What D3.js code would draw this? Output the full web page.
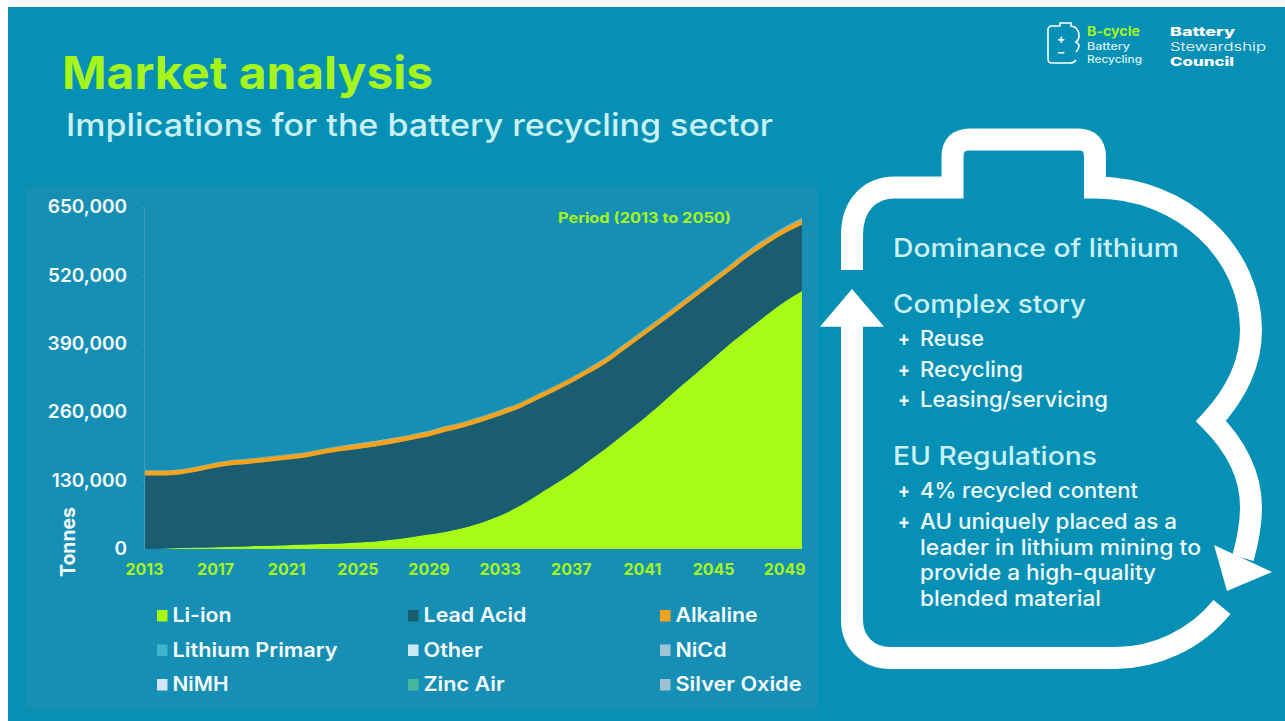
<!DOCTYPE html>
<html>
<head>
<meta charset="utf-8">
<script src="https://cdn.jsdelivr.net/npm/d3@7"></script>
<style>
  html, body { margin: 0; padding: 0; background: #fff; overflow: hidden; }
  text { font-family: Inter, "Open Sans", sans-serif; }
</style>
</head>
<body>
<div id="vis"></div>
<script>
// Data, tonnes per year
const years = d3.range(2013, 2051).map(String);
const tickYears = ["2013", "2017", "2021", "2025", "2029", "2033", "2037", "2041", "2045", "2049"];
const yTicks = [0, 130000, 260000, 390000, 520000, 650000];

const liIon = [0, 600, 1900, 2900, 3400, 4400, 5300, 6300, 7200, 8400, 9500, 10600, 12400, 14300, 18000, 22500, 27500, 33000, 40500, 50500, 63000, 80000, 100000, 121000, 142500, 167300, 192000, 218600, 245200, 273700, 304100, 332600, 362100, 391500, 418100, 444700, 469500, 490400];
const leadAcid = [139800, 139200, 139800, 144300, 150900, 155100, 156900, 159700, 162500, 165000, 170400, 175000, 177800, 180700, 182600, 184600, 186300, 190200, 191100, 191500, 190400, 185600, 181700, 176800, 172300, 166500, 161600, 159600, 157600, 153800, 148900, 146000, 142000, 138200, 138000, 133900, 130000, 125900];
const alkaline = [8800, 8800, 8800, 8900, 9000, 9000, 9000, 9000, 9100, 9100, 9200, 9200, 9300, 9300, 9300, 9400, 9400, 9400, 9500, 9500, 9500, 9600, 9600, 9600, 9700, 9700, 9700, 9800, 9800, 9800, 9900, 9900, 10000, 10000, 10100, 10200, 10200, 10300];
const lithiumPrimary = [150, 150, 150, 170, 170, 170, 200, 200, 200, 220, 220, 250, 250, 250, 270, 270, 270, 300, 300, 320, 320, 320, 350, 350, 370, 370, 400, 400, 420, 420, 450, 470, 470, 500, 520, 550, 570, 600];
const other = [120, 120, 120, 140, 140, 140, 160, 160, 160, 180, 180, 200, 200, 200, 220, 220, 220, 240, 240, 260, 260, 260, 280, 280, 300, 300, 320, 320, 340, 340, 360, 380, 380, 400, 420, 440, 460, 480];
const nicd = [60, 60, 60, 70, 70, 70, 80, 80, 80, 90, 90, 100, 100, 100, 110, 110, 110, 120, 120, 130, 130, 130, 140, 140, 150, 150, 160, 160, 170, 170, 180, 190, 190, 200, 210, 220, 230, 240];
const nimh = [150, 150, 150, 170, 170, 170, 200, 200, 200, 220, 220, 250, 250, 250, 270, 270, 270, 300, 300, 320, 320, 320, 350, 350, 370, 370, 400, 400, 420, 420, 450, 470, 470, 500, 520, 550, 570, 600];
const zincAir = [60, 60, 60, 70, 70, 70, 80, 80, 80, 90, 90, 100, 100, 100, 110, 110, 110, 120, 120, 130, 130, 130, 140, 140, 150, 150, 160, 160, 170, 170, 180, 190, 190, 200, 210, 220, 230, 240];
const silverOxide = [60, 60, 60, 70, 70, 70, 80, 80, 80, 90, 90, 100, 100, 100, 110, 110, 110, 120, 120, 130, 130, 130, 140, 140, 150, 150, 160, 160, 170, 170, 180, 190, 190, 200, 210, 220, 230, 240];

const seriesNames = ["Li-ion", "Lead Acid", "Alkaline", "Lithium Primary", "Other", "NiCd", "NiMH", "Zinc Air", "Silver Oxide"];
const seriesValues = [liIon, leadAcid, alkaline, lithiumPrimary, other, nicd, nimh, zincAir, silverOxide];
const seriesColors = ["#a8fb14", "#1a5c70", "#f7a21b", "#3fb5cd", "#cbe9f5", "#a0c4d5", "#d2e6f3", "#46b79b", "#a0c1d3"];

const width = 1285, height = 721;
const svg = d3.select("#vis").append("svg")
    .attr("width", width)
    .attr("height", height)
    .style("display", "block");

// Slide background and chart panel
svg.append("rect").attr("x", 8).attr("y", 7).attr("width", width - 8).attr("height", height - 7).attr("fill", "#0790b5");
svg.append("rect").attr("x", 26).attr("y", 187).attr("width", 792).attr("height", 522).attr("fill", "#178fb5");

// Text helper, textLength keeps each string at the width it has on the slide
function label(parent, str, x, y, size, weight, color, len) {
    const t = parent.append("text")
        .attr("x", x)
        .attr("y", y)
        .style("font-size", size + "px")
        .style("font-weight", weight)
        .attr("fill", color)
        .text(str);
    if (len) t.attr("textLength", len).attr("lengthAdjust", "spacingAndGlyphs");
    return t;
}

const green = "#a5f51c", pale = "#c9f1f6", white = "#f4fbfd";

label(svg, "Market analysis", 62, 89, 45, 700, green, 371);
label(svg, "Implications for the battery recycling sector", 66, 136, 31, 500, pale, 707);

// Chart
const margin = { top: 207, left: 144 };
const plotW = 658, plotH = 342;

const x = d3.scalePoint().domain(years).range([0, plotW]);
const y = d3.scaleLinear().domain([0, 650000]).range([plotH, 0]);

const rows = years.map((yr, i) => {
    const row = { year: yr };
    seriesNames.forEach((name, s) => { row[name] = seriesValues[s][i]; });
    return row;
});
const stacked = d3.stack().keys(seriesNames)(rows);

const area = d3.area()
    .x(d => x(d.data.year))
    .y0(d => y(d[0]))
    .y1(d => y(d[1]))
    .curve(d3.curveMonotoneX);

const plot = svg.append("g").attr("transform", `translate(${margin.left},${margin.top})`);

plot.selectAll("path.layer")
    .data(stacked)
    .join("path")
    .attr("class", "layer")
    .attr("fill", (d, i) => seriesColors[i])
    .attr("d", area);

// Y axis
const yAxis = plot.append("g")
    .call(d3.axisLeft(y).tickValues(yTicks).tickSize(2).tickPadding(15).tickFormat(d3.format(",")));
yAxis.select(".domain").attr("stroke", "#3f9dbc");
yAxis.selectAll(".tick line").attr("stroke", "#3f9dbc");
yAxis.selectAll("text")
    .attr("fill", white)
    .attr("dy", "0.3em")
    .style("font-size", "19px")
    .style("font-weight", 600);

// X axis
const xAxis = plot.append("g")
    .attr("transform", `translate(0,${plotH})`)
    .call(d3.axisBottom(x).tickValues(tickYears).tickSize(0).tickPadding(15));
xAxis.select(".domain").remove();
xAxis.selectAll("text")
    .attr("fill", green)
    .style("font-size", "16px")
    .style("font-weight", 700);

label(svg, "Period (2013 to 2050)", 558, 223, 14, 700, green, 173);
label(svg, "Tonnes", 0, 0, 20, 700, white, 70)
    .attr("transform", "translate(75,577) rotate(-90)");

// Legend
const legendX = [157, 408, 660];
const legendY = [610, 644.5, 679];
const legendLen = [59, 103, 82, 165, 59, 51, 56, 81, 126];
seriesNames.forEach((name, i) => {
    const lx = legendX[i % 3], ly = legendY[Math.floor(i / 3)];
    svg.append("rect").attr("x", lx).attr("y", ly).attr("width", 10.5).attr("height", 11.5).attr("fill", seriesColors[i]);
    label(svg, name, lx + 15.5, ly + 12, 20, 600, white, legendLen[i]);
});

// Battery outline on the right
const outline = svg.append("g")
    .attr("fill", "none")
    .attr("stroke", "#fff")
    .attr("stroke-width", 22)
    .attr("stroke-miterlimit", 10);

const upperArc = d3.path();
upperArc.moveTo(852, 270);
upperArc.lineTo(852, 235);
upperArc.bezierCurveTo(852, 205, 870, 187.5, 895, 187.5);
upperArc.lineTo(952.5, 187.5);
upperArc.lineTo(952.5, 157);
upperArc.quadraticCurveTo(952.5, 139.5, 970, 139.5);
upperArc.lineTo(1078, 139.5);
upperArc.quadraticCurveTo(1095, 139.5, 1095, 157);
upperArc.lineTo(1095, 187.5);
upperArc.bezierCurveTo(1185, 187.5, 1251, 255, 1251, 330);
upperArc.bezierCurveTo(1251, 365, 1235, 395, 1211, 421);
upperArc.bezierCurveTo(1235, 445, 1251, 475, 1251, 507);
upperArc.bezierCurveTo(1251, 525, 1248, 540, 1243, 558);
outline.append("path").attr("d", upperArc.toString());

const bottomArc = d3.path();
bottomArc.moveTo(1222, 607);
bottomArc.bezierCurveTo(1195, 640, 1155, 658, 1115, 658);
bottomArc.lineTo(890, 658);
bottomArc.bezierCurveTo(868, 658, 852, 642, 852, 620);
bottomArc.lineTo(852, 320);
outline.append("path").attr("d", bottomArc.toString());

svg.append("polygon").attr("points", "852,289 884,326.7 820,326.7").attr("fill", "#fff");
svg.append("polygon").attr("points", "1214,545 1272,572 1227,591").attr("fill", "#fff");

// Text inside the battery
label(svg, "Dominance of lithium", 893, 257, 25, 500, pale, 286);
label(svg, "Complex story", 893, 313, 25, 500, pale, 193);
label(svg, "EU Regulations", 893, 465, 25, 500, pale, 204);

const bulletText = [
    ["+", 898, 346, 12], ["Reuse", 920, 346, 64],
    ["+", 898, 377, 12], ["Recycling", 920, 377, 103],
    ["+", 898, 407, 12], ["Leasing/servicing", 920, 407, 188],
    ["+", 898, 498, 12], ["4% recycled content", 920, 498, 218],
    ["+", 898, 529, 12], ["AU uniquely placed as a", 920, 529, 257],
    ["leader in lithium mining to", 920, 555, 281],
    ["provide a high-quality", 920, 580, 236],
    ["blended material", 920, 606, 181]
];
bulletText.forEach(b => {
    const bold = b[0] === "+";
    label(svg, b[0], b[1], b[2], 21, bold ? 700 : 500, "#eefafc", b[3]);
});

// Logos top right
const icon = svg.append("g").attr("fill", "none").attr("stroke", "#fff").attr("stroke-width", 1.6);
icon.append("path").attr("d", "M1062,23 L1060,23 L1060,26 L1052,26 Q1048,26 1048,30 L1048,59 Q1048,63 1052,63 L1070,63 Q1074,63 1076,60 M1076,52 Q1079,49 1079,46 Q1079,44 1076,42 Q1079,40 1079,36 Q1079,27 1071,26 L1071,23 L1062,23");
label(svg, "+", 1057, 43, 12, 700, "#fff");
label(svg, "\u2212", 1057, 56, 12, 700, "#fff");

label(svg, "B-cycle", 1087, 36, 13, 700, green, 53);
label(svg, "Battery", 1087, 50, 11, 500, "#d8f2f6", 43);
label(svg, "Recycling", 1087, 63, 11, 500, "#d8f2f6", 55);
label(svg, "Battery", 1170, 36, 12, 800, "#fff", 65);
label(svg, "Stewardship", 1170, 51, 12, 300, "#fff", 96);
label(svg, "Council", 1170, 66, 12, 800, "#fff", 64);
</script>
</body>
</html>
